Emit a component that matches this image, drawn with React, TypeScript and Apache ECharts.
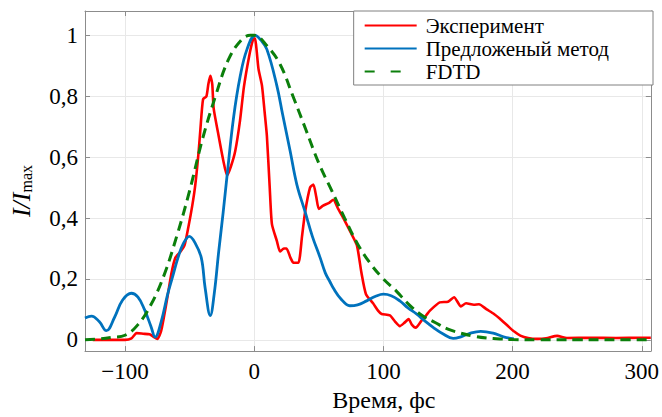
import React, { useEffect, useRef } from 'react';
import * as echarts from 'echarts';

// Эксперимент
const expT = [-125, -100, -95, -91, -86, -81, -78, -75, -72, -68, -64, -61, -57, -54, -51, -48, -45.6, -43, -41.7, -39.6, -37, -35.5, -34, -32.5, -31.4, -28, -24, -21, -18, -14.7, -11, -8, -4, -1, 0.5, 3.3, 6, 8, 9.8, 12, 13.7, 17.5, 20, 23, 25, 28, 30.4, 34.2, 37, 39.4, 43.2, 45.8, 48, 50, 53, 58, 61.2, 65, 69, 75, 79.5, 83, 86.5, 92, 96, 98.6, 105, 109, 112.7, 116, 119.5, 122, 125, 129.5, 133, 136, 143.6, 150, 154.7, 160, 164, 170, 174, 180, 185.6, 190, 196, 201, 206, 212, 219, 226, 234.5, 242, 260, 280, 300, 307];
const expI = [0, 0, 0.005, 0.022, 0.02, 0.018, 0.01, 0.003, 0.03, 0.12, 0.22, 0.27, 0.29, 0.31, 0.37, 0.44, 0.51, 0.62, 0.69, 0.79, 0.8, 0.84, 0.867, 0.84, 0.76, 0.68, 0.59, 0.54, 0.57, 0.62, 0.72, 0.83, 0.93, 0.985, 0.99, 0.89, 0.835, 0.75, 0.67, 0.5, 0.38, 0.325, 0.29, 0.3, 0.3, 0.27, 0.253, 0.253, 0.34, 0.42, 0.5, 0.51, 0.47, 0.43, 0.44, 0.45, 0.46, 0.43, 0.4, 0.35, 0.31, 0.22, 0.15, 0.12, 0.095, 0.085, 0.08, 0.06, 0.045, 0.055, 0.068, 0.05, 0.04, 0.063, 0.08, 0.096, 0.123, 0.125, 0.14, 0.11, 0.12, 0.115, 0.117, 0.1, 0.085, 0.07, 0.047, 0.028, 0.014, 0.006, 0.003, 0.005, 0.013, 0.006, 0.007, 0.006, 0.007, 0.007];

// Предложеный метод
const modelT = [-131, -126, -120, -114.5, -108, -102, -95.2, -90, -85, -80, -76.7, -72, -67, -63, -59, -55, -50.2, -46, -41, -38, -34, -31, -27.5, -24, -21, -16, -10.8, -5.6, 0.8, 5, 9.8, 17.5, 22, 27.8, 33, 39.4, 45, 51, 55, 58.7, 61.2, 67, 74, 80, 87, 94, 100, 106, 112.7, 119, 125.6, 132, 138.5, 146, 154, 160, 166, 175.3, 185, 193, 201];
const modelI = [0.072, 0.078, 0.06, 0.03, 0.075, 0.13, 0.153, 0.14, 0.1, 0.045, 0.009, 0.06, 0.15, 0.21, 0.27, 0.315, 0.34, 0.32, 0.27, 0.17, 0.08, 0.15, 0.29, 0.42, 0.54, 0.73, 0.867, 0.954, 1.0, 0.985, 0.954, 0.835, 0.74, 0.62, 0.51, 0.42, 0.34, 0.27, 0.22, 0.19, 0.17, 0.135, 0.112, 0.115, 0.128, 0.143, 0.15, 0.145, 0.128, 0.105, 0.085, 0.062, 0.041, 0.02, 0.005, 0.01, 0.02, 0.028, 0.022, 0.01, 0.003];

// FDTD
const fdtdT = [-131, -120, -110, -100, -90, -80, -70, -60, -50, -40, -30, -20, -10, -3, 0, 10, 20, 30, 40, 50, 60, 70, 80, 90, 100, 110, 120, 130, 140, 150, 160, 170, 180, 190, 200, 220, 250, 280, 307];
const fdtdI = [0, 0.003, 0.008, 0.015, 0.05, 0.115, 0.21, 0.34, 0.49, 0.66, 0.8, 0.92, 0.985, 1.0, 1.0, 0.965, 0.905, 0.8, 0.69, 0.58, 0.49, 0.4, 0.315, 0.25, 0.2, 0.16, 0.115, 0.08, 0.057, 0.035, 0.022, 0.012, 0.006, 0.003, 0.001, 0, 0, 0, 0];

const seriesNames = ['Эксперимент', 'Предложеный метод', 'FDTD'];
const xLabelTitle = 'Время, фс';

const pairs = (t: number[], v: number[]) => t.map((x, i) => [x, v[i]]);

export default function App() {
  const ref = useRef<HTMLDivElement>(null);
  useEffect(() => {
    document.body.style.margin = '0';
    const chart = echarts.init(ref.current!, null, { renderer: 'svg' });
    const font = "'Liberation Serif', 'Times New Roman', serif";
    const frame = '#8c8c8c';
    const gridColor = '#e8e8e8';
    const xRange = { min: -131, max: 307 };
    const yRange = { min: -0.037, max: 1.08 };
    const commonLine = { show: true, onZero: false, lineStyle: { color: frame, width: 1 } };
    const commonTick = { show: true, inside: true, length: 5, lineStyle: { color: frame } };
    chart.setOption({
      animation: false,
      textStyle: { fontFamily: font },
      grid: { left: 84, right: 10, top: 11, bottom: 63 },
      legend: {
        orient: 'vertical',
        right: 9,
        top: 11,
        data: [
          { name: seriesNames[0] },
          { name: seriesNames[1] },
          { name: seriesNames[2], lineStyle: { type: [10, 16] } },
        ],
        backgroundColor: '#ffffff',
        borderColor: '#808080',
        borderWidth: 1,
        borderRadius: 0,
        padding: [4, 44, 3, 10],
        itemWidth: 52,
        itemHeight: 14,
        itemGap: 2,
        itemStyle: { opacity: 0 },
        textStyle: { fontFamily: font, fontSize: 21, color: '#000', lineHeight: 21, padding: [0, 0, 0, 4] },
      },
      xAxis: [
        {
          type: 'value',
          ...xRange,
          splitNumber: 5,
          position: 'bottom',
          axisLine: commonLine,
          axisTick: commonTick,
          axisLabel: {
            showMinLabel: false,
            showMaxLabel: false,
            margin: 9,
            color: '#000',
            fontFamily: font,
            fontSize: 23,
            formatter: (v: number) => String(v).replace('-', '\u2212'),
          },
          splitLine: { show: true, lineStyle: { color: gridColor, width: 1 } },
          name: xLabelTitle,
          nameLocation: 'middle',
          nameGap: 35,
          nameTextStyle: { fontFamily: font, fontSize: 24, color: '#000', padding: [0, 0, 0, 32] },
        },
        {
          type: 'value',
          ...xRange,
          splitNumber: 5,
          position: 'top',
          axisLine: commonLine,
          axisTick: commonTick,
          axisLabel: { show: false },
          splitLine: { show: false },
        },
      ],
      yAxis: [
        {
          type: 'value',
          ...yRange,
          splitNumber: 5,
          position: 'left',
          axisLine: commonLine,
          axisTick: commonTick,
          axisLabel: {
            showMinLabel: false,
            showMaxLabel: false,
            margin: 7,
            color: '#000',
            fontFamily: font,
            fontSize: 23,
            formatter: (v: number) => (Math.abs(v) < 1e-9 ? '0' : String(+v.toFixed(1)).replace('.', ',')),
          },
          splitLine: { show: true, lineStyle: { color: gridColor, width: 1 } },
          name: '{i|I/I}{s|max}',
          nameLocation: 'middle',
          nameRotate: 90,
          nameGap: 51,
          nameTextStyle: {
            color: '#000',
            padding: [0, 20, 0, 0],
            rich: {
              i: { fontFamily: font, fontStyle: 'italic', fontSize: 26, lineHeight: 28, color: '#000', verticalAlign: 'bottom' },
              s: { fontFamily: font, fontSize: 16, lineHeight: 16, color: '#000', verticalAlign: 'bottom' },
            },
          },
        },
        {
          type: 'value',
          ...yRange,
          splitNumber: 5,
          position: 'right',
          axisLine: commonLine,
          axisTick: commonTick,
          axisLabel: { show: false },
          splitLine: { show: false },
        },
      ],
      series: [
        {
          name: seriesNames[0],
          type: 'line',
          data: pairs(expT, expI),
          symbol: 'none',
          smooth: 0.2,
          lineStyle: { color: '#ff0000', width: 2.6 },
          itemStyle: { color: '#ff0000' },
          z: 2,
        },
        {
          name: seriesNames[1],
          type: 'line',
          data: pairs(modelT, modelI),
          symbol: 'none',
          smooth: 0.4,
          lineStyle: { color: '#0072bd', width: 2.8 },
          itemStyle: { color: '#0072bd' },
          z: 3,
        },
        {
          name: seriesNames[2],
          type: 'line',
          data: pairs(fdtdT, fdtdI),
          symbol: 'none',
          smooth: 0.4,
          lineStyle: { color: '#0b7f0b', width: 3, type: [10, 6] },
          itemStyle: { color: '#0b7f0b' },
          z: 4,
        },
      ],
    });
    return () => chart.dispose();
  }, []);
  return <div ref={ref} style={{ width: 662, height: 417 }} />;
}
